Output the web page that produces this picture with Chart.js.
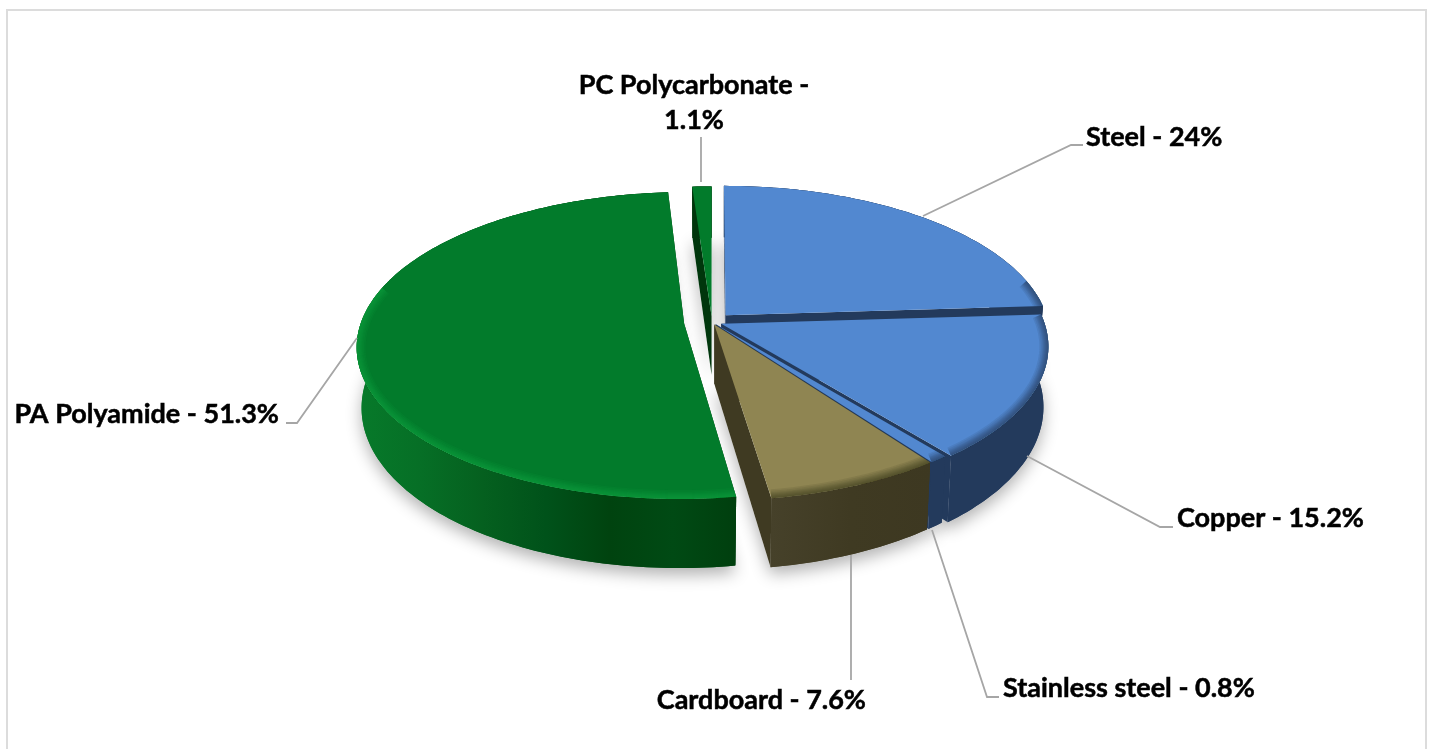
<!DOCTYPE html>
<html lang="en">
<head>
    <meta charset="UTF-8">
    <title>Material shares</title>
    <style>
        body { margin: 0; background: #fff; }
        canvas { display: block; }
    </style>
</head>
<body>
    <canvas id="myChart" width="1432" height="749"></canvas>

    <script src="https://cdn.jsdelivr.net/npm/chart.js"></script>
    <script>
        const categories = ['Steel', 'Copper', 'Stainless steel', 'Cardboard', 'PA Polyamide', 'PC Polycarbonate'];
        const shares = [24, 15.2, 0.8, 7.6, 51.3, 1.1];

        // look of each slice, same order as categories
        const topColors = ['#5288d0', '#5288d0', '#5288d0', '#8f8552', '#027b2b', '#027b2b'];
        const rimColors = ['#233a5c', '#233a5c', '#233a5c', '#3f3a22', '#16a340', '#16a340'];
        const cutColors = ['#233a5c', '#233a5c', '#233a5c', '#3f3a22', '#00400f', '#00360c'];
        const explode = [40, 20, 12, 12, 56, 26];
        const wallStops = [
            ['#233a5c', '#233a5c'],
            ['#233a5c', '#233a5c'],
            ['#233a5c', '#233a5c'],
            ['#46412a', '#3f3a22', '#3d3821'],
            ['#077a2a', '#066f26', '#05601f', '#00521a', '#00430f', '#004a14', '#003f0e'],
            ['#00360c', '#00360c']
        ];
        const paintOrder = [4, 5, 0, 1, 2, 3];

        // where the labels and their leader lines sit on the page
        const labelSpots = [
            { x: 1086, y: 137, align: 'left', line: [[923, 216], [1071, 145], [1083, 145]] },
            { x: 1177, y: 518, align: 'left', line: [[1027, 456], [1160, 527], [1173, 527]] },
            { x: 1003, y: 688, align: 'left', line: [[932, 530], [987, 697], [999, 697]] },
            { x: 866, y: 700, align: 'right', line: [[851, 555], [851, 680]] },
            { x: 279, y: 414, align: 'right', line: [[357, 338], [297, 423], [286, 423]] },
            { x: 694, y: 85, align: 'center', wrap: true, line: [[701, 137], [701, 182]] }
        ];

        const TILT = 0.464;
        const PERSP = 0.144;
        const DEPTH = 59;
        const BASE_TAPER = 0.985; // underside is a bit narrower than the top

        function project(el, U, V, z) {
            const s = 1 / (1 - PERSP * V / el.outerRadius);
            return [el.x + U * s, el.y + TILT * V * s + z * s];
        }

        function slicePoints(el, index, z) {
            const d = explode[index] / 2;
            const mid = (el.startAngle + el.endAngle) / 2;
            const ox = d * Math.cos(mid), oy = d * Math.sin(mid);
            const rx = el.outerRadius * (z > 0 ? BASE_TAPER : 1);
            const steps = Math.max(2, Math.ceil((el.endAngle - el.startAngle) / 0.02));
            const rim = [];
            for (let i = 0; i <= steps; i++) {
                const a = el.startAngle + (el.endAngle - el.startAngle) * i / steps;
                rim.push(project(el, ox + rx * Math.cos(a), oy + el.outerRadius * Math.sin(a), z));
            }
            return { apex: project(el, ox, oy, z), rim: rim };
        }

        function fillPoly(ctx, pts, fill) {
            ctx.beginPath();
            pts.forEach((p, i) => i ? ctx.lineTo(p[0], p[1]) : ctx.moveTo(p[0], p[1]));
            ctx.closePath();
            ctx.fillStyle = fill;
            ctx.fill();
        }

        function drawSlice(ctx, el, i) {
            const top = slicePoints(el, i, 0);
            const bottom = slicePoints(el, i, DEPTH);
            const last = top.rim.length - 1;

            // the cut faces
            fillPoly(ctx, [top.apex, top.rim[0], bottom.rim[0], bottom.apex], cutColors[i]);
            fillPoly(ctx, [top.apex, top.rim[last], bottom.rim[last], bottom.apex], cutColors[i]);

            // outer wall, filled twice so no light seam shows next to the cut faces
            const xs = top.rim.map(p => p[0]);
            const grad = ctx.createLinearGradient(Math.min(...xs), 0, Math.max(...xs), 0);
            const stops = wallStops[i];
            stops.forEach((c, k) => grad.addColorStop(k / (stops.length - 1), c));
            const wall = top.rim.concat(bottom.rim.slice().reverse());
            fillPoly(ctx, wall, grad);
            ctx.fill();

            // top face
            const face = [top.apex].concat(top.rim);
            fillPoly(ctx, face, topColors[i]);

            // soft bevel along the front of the rim
            ctx.save();
            ctx.beginPath();
            face.forEach((p, k) => k ? ctx.lineTo(p[0], p[1]) : ctx.moveTo(p[0], p[1]));
            ctx.closePath();
            ctx.clip();
            ctx.lineJoin = 'round';
            ctx.strokeStyle = rimColors[i];
            ctx.globalAlpha = i >= 4 ? 0.1 : 0.13;
            [18, 15, 12, 10, 8, 6, 4, 2].forEach(w => {
                ctx.lineWidth = w;
                ctx.beginPath();
                let pen = false;
                top.rim.forEach((p, k) => {
                    const a = el.startAngle + (el.endAngle - el.startAngle) * k / last;
                    if (Math.sin(a) < -0.25) { pen = false; return; }
                    if (pen) ctx.lineTo(p[0], p[1]); else ctx.moveTo(p[0], p[1]);
                    pen = true;
                });
                ctx.stroke();
            });
            ctx.restore();
        }

        const pie3d = {
            id: 'pie3d',
            beforeDraw(chart) {
                const ctx = chart.ctx;
                ctx.save();
                ctx.strokeStyle = '#dcdcdc';
                ctx.lineWidth = 2;
                ctx.strokeRect(7, 10, 1419, 760);
                ctx.restore();
            },
            beforeDatasetDraw(chart, args) {
                const ctx = chart.ctx;
                const arcs = args.meta.data;
                ctx.save();
                // soft shadow from the underside
                ctx.shadowColor = 'rgba(0,0,0,0.3)';
                ctx.shadowBlur = 16;
                ctx.shadowOffsetY = 7;
                arcs.forEach((el, i) => {
                    const b = slicePoints(el, i, DEPTH);
                    fillPoly(ctx, [b.apex].concat(b.rim), '#ffffff');
                });
                ctx.shadowColor = 'transparent';
                paintOrder.forEach(i => drawSlice(ctx, arcs[i], i));
                ctx.restore();
                return false;
            },
            afterDatasetsDraw(chart) {
                const ctx = chart.ctx;
                ctx.save();
                ctx.strokeStyle = '#a6a6a6';
                ctx.lineWidth = 1.8;
                labelSpots.forEach(spot => {
                    ctx.beginPath();
                    spot.line.forEach((p, k) => k ? ctx.lineTo(p[0], p[1]) : ctx.moveTo(p[0], p[1]));
                    ctx.stroke();
                });
                ctx.fillStyle = '#000';
                ctx.strokeStyle = '#000';
                ctx.lineWidth = 0.5;
                ctx.font = 'bold 27px Lato';
                ctx.textBaseline = 'middle';
                const put = (text, x, y) => {
                    ctx.fillText(text, x, y);
                    ctx.strokeText(text, x, y);
                };
                labelSpots.forEach((spot, i) => {
                    ctx.textAlign = spot.align;
                    if (spot.wrap) {
                        put(categories[i] + ' -', spot.x, spot.y);
                        put(shares[i] + '%', spot.x, spot.y + 35);
                    } else {
                        put(categories[i] + ' - ' + shares[i] + '%', spot.x, spot.y);
                    }
                });
                ctx.restore();
            }
        };

        new Chart(document.getElementById('myChart').getContext('2d'), {
            type: 'pie',
            data: {
                labels: categories,
                datasets: [{ data: shares, backgroundColor: topColors, offset: explode, borderWidth: 0 }]
            },
            options: {
                responsive: false,
                animation: false,
                events: [],
                radius: 323,
                layout: { padding: { left: 0, right: 8, top: 0, bottom: 105 } },
                plugins: { legend: { display: false }, tooltip: { enabled: false } }
            },
            plugins: [pie3d]
        });
    </script>
</body>
</html>
